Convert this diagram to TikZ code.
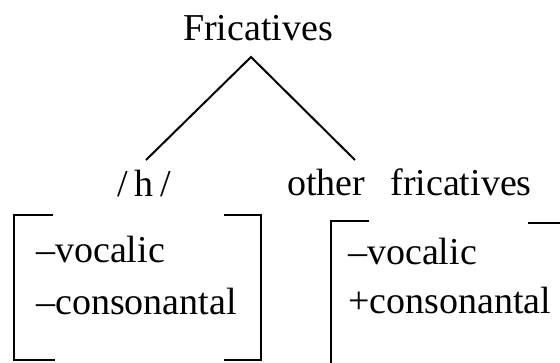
\documentclass[tikz,border=0pt]{standalone}
\usepackage{fontspec}
\setmainfont{Liberation Serif}
\begin{document}
\begin{tikzpicture}[x=1pt,y=-1pt,
  lbl/.style={inner sep=0pt,anchor=base west,font=\fontsize{38}{42}\selectfont},
  edge/.style={line width=2pt},
  brk/.style={line width=2.2pt}]
\useasboundingbox (0,0) rectangle (560,363);
% labels
\node[lbl] (top) at (183,41) {Fricatives};
\node[lbl] (h) at (117,197) {/\hspace{0.18em}h\hspace{0.18em}/};
\node[lbl] (other) at (287,196) {other\hspace{0.66em}fricatives};
% connectors
\coordinate (apex) at (251,57);
\coordinate (lend) at (146,160);
\coordinate (rend) at (355,160);
\draw[edge] (lend) -- (apex) -- (rend);
% left matrix
\node[lbl] (lv) at (36,263) {–vocalic};
\node[lbl] (lc) at (36,315) {–consonantal};
\draw[brk] (53,215) -- (14,215) -- (14,360) -- (55,360);
\draw[brk] (224,215) -- (261,215) -- (261,360) -- (224,360);
% right matrix
\node[lbl] (rv) at (348,265) {–vocalic};
\node[lbl] (rc) at (348,314) {+consonantal};
\draw[brk] (369,221) -- (331,221) -- (331,365);
\draw[brk] (528,223) -- (562,223);
\end{tikzpicture}
\end{document}
